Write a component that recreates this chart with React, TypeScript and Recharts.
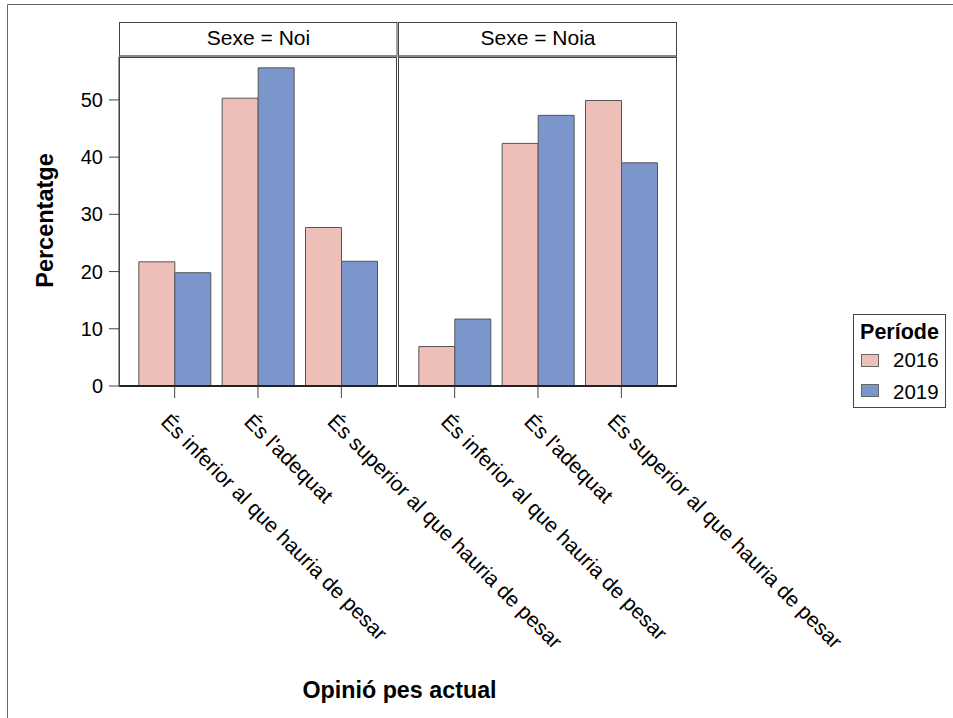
import React from 'react';
import { BarChart, Bar, XAxis, YAxis } from 'recharts';

const categories = [
  "És inferior al que hauria de pesar",
  "És l'adequat",
  "És superior al que hauria de pesar",
];
const periods = ["2016", "2019"];
const noi2016 = [21.7, 50.3, 27.7];
const noi2019 = [19.8, 55.6, 21.8];
const noia2016 = [6.9, 42.4, 49.9];
const noia2019 = [11.7, 47.3, 39.0];
const yTicks = [0, 10, 20, 30, 40, 50];
const panelTitles = ["Sexe = Noi", "Sexe = Noia"];
const yTitle = "Percentatge";
const xTitle = "Opinió pes actual";
const legendTitle = "Període";

const colors = ["#EEBFB8", "#7B96CB"];
const FONT = "'Liberation Sans', Arial, Helvetica, sans-serif";

const noiData = categories.map((c, i) => ({ cat: c, v2016: noi2016[i], v2019: noi2019[i] }));
const noiaData = categories.map((c, i) => ({ cat: c, v2016: noia2016[i], v2019: noia2019[i] }));

const PLOT_TOP = 57;
const PLOT_BOTTOM = 386;
const H = 718;
const XAXIS_H = H - PLOT_BOTTOM;

const XTick = (props: any) => {
  const { x, y, payload } = props;
  const tx = x - 15;
  const ty = y + 25;
  return (
    <text
      x={tx}
      y={ty}
      transform={`rotate(45, ${tx}, ${ty})`}
      textAnchor="start"
      fontSize={21}
      fontFamily={FONT}
      fill="#000"
    >
      {payload.value}
    </text>
  );
};

const Panel = ({ data, left, width, rightMargin, showY }: any) => (
  <div style={{ position: 'absolute', left, top: 0 }}>
    <BarChart
      width={width}
      height={H}
      data={data}
      margin={{ top: PLOT_TOP, right: rightMargin, bottom: 0, left: 0 }}
      barCategoryGap="7%"
      barGap={0}
    >
      <XAxis
        dataKey="cat"
        height={XAXIS_H}
        padding={{ left: 14, right: 14 }}
        axisLine={{ stroke: '#000', strokeWidth: 2 }}
        tickLine={{ stroke: '#444' }}
        tickSize={12}
        tickMargin={0}
        interval={0}
        tick={<XTick />}
      />
      <YAxis
        hide={!showY}
        width={119}
        domain={[0, 57.5]}
        ticks={yTicks}
        allowDataOverflow
        axisLine={{ stroke: '#333' }}
        tickLine={{ stroke: '#444' }}
        tickSize={10}
        tickMargin={6}
        tick={{ fontSize: 20, fill: '#000', fontFamily: FONT }}
      />
      <Bar dataKey="v2016" name={periods[0]} fill={colors[0]} stroke="#555" strokeWidth={1} isAnimationActive={false} />
      <Bar dataKey="v2019" name={periods[1]} fill={colors[1]} stroke="#555" strokeWidth={1} isAnimationActive={false} />
    </BarChart>
  </div>
);

const Overlay = () => (
  <svg
    width={953}
    height={718}
    style={{ position: 'absolute', left: 0, top: 0, pointerEvents: 'none' }}
    fontFamily={FONT}
  >
    <path d="M7.5 718 V4.5 H953" stroke="#666" strokeWidth={1} fill="none" />
    {/* panel headers */}
    <rect x={119.5} y={22.5} width={277.5} height={34} fill="#fff" stroke="#444" />
    <line x1={119.5} x2={397} y1={56.5} y2={56.5} stroke="#888" strokeWidth={3} />
    <text x={258.5} y={44.5} textAnchor="middle" fontSize={21} fill="#000">{panelTitles[0]}</text>
    <rect x={398.5} y={22.5} width={278} height={34} fill="#fff" stroke="#444" />
    <line x1={398.5} x2={676.5} y1={56.5} y2={56.5} stroke="#888" strokeWidth={3} />
    <text x={538} y={44.5} textAnchor="middle" fontSize={21} fill="#000">{panelTitles[1]}</text>
    {/* panel borders */}
    <rect x={119.5} y={57.5} width={277} height={328.5} fill="none" stroke="#444" />
    <rect x={398.5} y={57.5} width={278} height={328.5} fill="none" stroke="#444" />
    {/* axis titles */}
    <text x={53} y={220.5} transform="rotate(-90, 53, 220.5)" textAnchor="middle" fontSize={23.5} fontWeight="bold" fill="#000">{yTitle}</text>
    <text x={399.5} y={698} textAnchor="middle" fontSize={23.3} fontWeight="bold" fill="#000">{xTitle}</text>
    {/* legend */}
    <rect x={853.5} y={314.5} width={92} height={93} fill="#fff" stroke="#444" />
    <text x={899.5} y={339} textAnchor="middle" fontSize={21.5} fontWeight="bold" fill="#000">{legendTitle}</text>
    {periods.map((p, i) => (
      <g key={p}>
        <rect x={861.5} y={354.5 + i * 30} width={17} height={12} fill={colors[i]} stroke="#666" />
        <text x={893} y={367 + i * 31.5} fontSize={20.5} fill="#000">{p}</text>
      </g>
    ))}
  </svg>
);

export default function App() {
  return (
    <div style={{ position: 'absolute', left: 0, top: 0, width: 953, height: 718, background: '#fff', fontFamily: FONT, overflow: 'hidden' }}>
      <Panel data={noiData} left={0} width={720} rightMargin={323} showY={true} />
      <Panel data={noiaData} left={399} width={554} rightMargin={276} showY={false} />
      <Overlay />
    </div>
  );
}
